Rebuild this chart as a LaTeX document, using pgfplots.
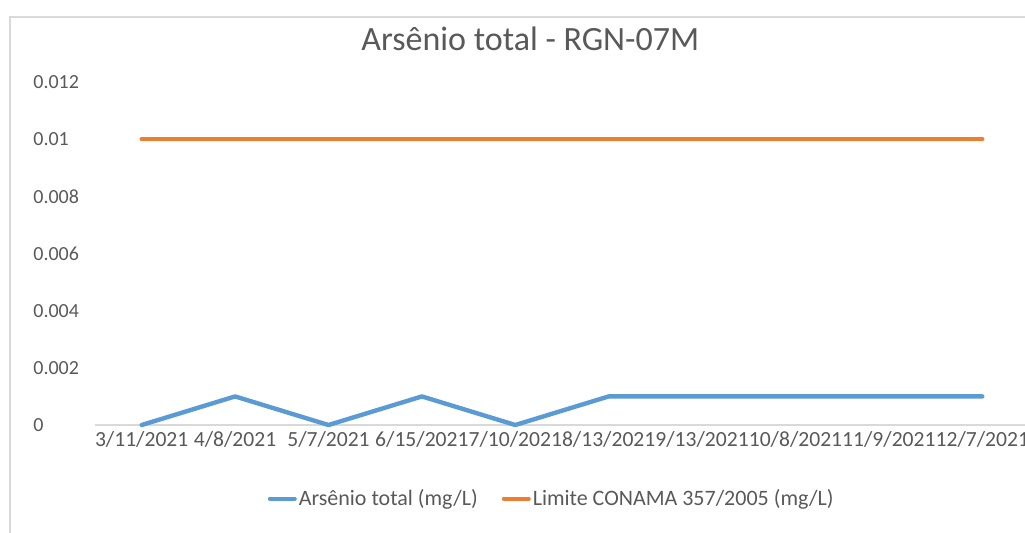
\documentclass[border=0pt]{standalone}
\usepackage{fontspec}
\setmainfont{Carlito}
\usepackage{pgfplots}
\pgfplotsset{compat=1.18}
\definecolor{asblue}{HTML}{5B9BD5}
\definecolor{conorange}{HTML}{ED7D31}
\definecolor{txtgray}{HTML}{595959}
\definecolor{axgray}{HTML}{D9D9D9}

\begin{document}
\begin{tikzpicture}
\useasboundingbox (0,0) rectangle (512.5pt,266pt);
% chart area border (cut at right and bottom like the screenshot)
\draw[axgray, line width=0.6pt] (5pt,-5pt) -- (5pt,257.5pt) -- (530pt,257.5pt);
\begin{axis}[
  at={(47.5pt,53.5pt)}, anchor=south west,
  scale only axis, width=467pt, height=171.5pt,
  xmin=-0.5, xmax=9.5, ymin=0, ymax=0.012,
  clip=false,
  axis x line*=bottom, axis y line*=left,
  x axis line style={axgray, line width=0.6pt, -},
  y axis line style={draw=none},
  tick align=outside,
  xtick={0,...,9},
  xticklabels={3/11/2021,4/8/2021,5/7/2021,6/15/2021,7/10/2021,8/13/2021,9/13/2021,10/8/2021,11/9/2021,12/7/2021},
  xtick style={draw=none},
  extra x ticks={-0.5,0.5,1.5,2.5,3.5,4.5,5.5,6.5,7.5,8.5,9.5},
  extra x tick labels={},
  extra x tick style={xtick style={axgray, line width=0.6pt}, major tick length=3pt},
  ytick={0,0.002,0.004,0.006,0.008,0.01,0.012},
  yticklabels={0,0.002,0.004,0.006,0.008,0.01,0.012},
  scaled y ticks=false,
  ytick style={draw=none},
  yticklabel style={text width=22.5pt, align=left, xshift=-0.5pt, font=\fontsize{10}{12}\selectfont, text=txtgray},
  xticklabel style={font=\fontsize{10.8}{12}\selectfont, text=txtgray, yshift=4.5pt},
  title={Arsênio total - RGN-07M},
  title style={at={(rel axis cs:0.466,1.09)}, anchor=center, font=\fontsize{17}{20}\selectfont, text=txtgray},
  legend style={at={(rel axis cs:0.489,-0.215)}, anchor=center, draw=none, fill=none,
    legend columns=2, font=\fontsize{11}{13}\selectfont, text=txtgray,
    nodes={inner xsep=1pt},
    /tikz/every even column/.append style={column sep=11pt}},
  legend cell align=left,
  legend image code/.code={\draw[#1, line width=2pt] (0pt,0pt) -- (12.5pt,0pt);},
]
\addplot[asblue, line width=2.2pt, line join=round, line cap=round]
  coordinates {(0,0) (1,0.001) (2,0) (3,0.001) (4,0) (5,0.001) (6,0.001) (7,0.001) (8,0.001) (9,0.001)};
\addplot[conorange, line width=2.2pt, line join=round, line cap=round]
  coordinates {(0,0.01) (1,0.01) (2,0.01) (3,0.01) (4,0.01) (5,0.01) (6,0.01) (7,0.01) (8,0.01) (9,0.01)};
\legend{Arsênio total (mg/L), Limite CONAMA 357/2005 (mg/L)}
\end{axis}
\end{tikzpicture}
\end{document}
